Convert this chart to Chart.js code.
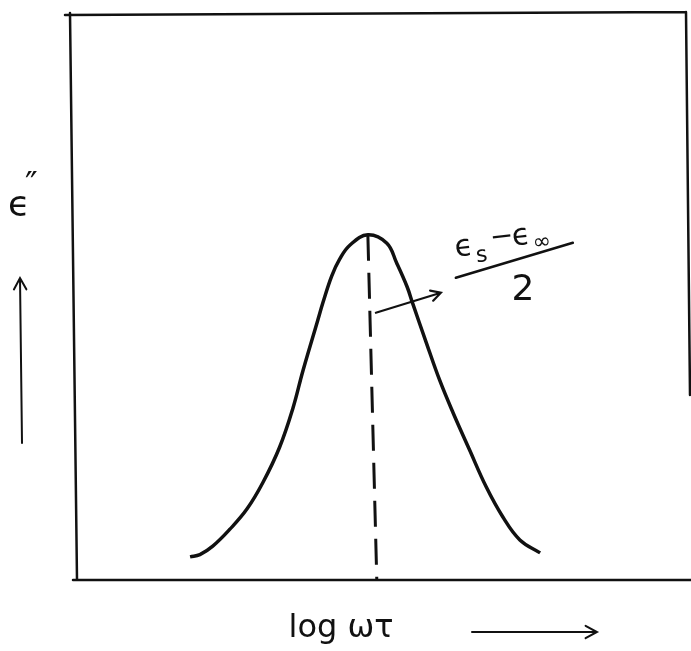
<!DOCTYPE html>
<html>
<head>
<meta charset="utf-8">
<script src="https://cdn.jsdelivr.net/npm/chart.js@4.4.1/dist/chart.umd.min.js"></script>
<style>
  html, body { margin: 0; padding: 0; background: #fff; }
  #wrap { position: relative; width: 691px; height: 651px; }
</style>
</head>
<body>
<div id="wrap"><canvas id="lossChart"></canvas></div>
<script>
// log(omega*tau), peak placed at 0
var logWT = [-2.90, -2.74, -2.53, -2.25, -1.97, -1.71, -1.44, -1.22, -1.06, -0.83, -0.73, -0.59, -0.46, -0.29, 0,
             0.31, 0.47, 0.64, 0.73, 0.96, 1.17, 1.39, 1.66, 1.93, 2.20, 2.48, 2.81];
// epsilon'' (arbitrary units, axis 0..1)
var epsLoss = [0.041, 0.045, 0.060, 0.090, 0.126, 0.173, 0.235, 0.305, 0.370, 0.455, 0.492, 0.538, 0.568, 0.593, 0.611,
               0.596, 0.561, 0.519, 0.490, 0.418, 0.354, 0.296, 0.230, 0.165, 0.112, 0.071, 0.048];
// dashed drop line from the peak to the axis
var dropX = [0, 0.147];
var dropY = [0.611, -0.005];

var xMin = -4.81, xMax = 5.19;
var yMin = 0, yMax = 1;

var curvePts = logWT.map(function(v, i){ return {x: v, y: epsLoss[i]}; });
var dropPts = dropX.map(function(v, i){ return {x: v, y: dropY[i]}; });

var INK = '#111';
var EPS = '\u03f5';

function arrow(ctx, x1, y1, x2, y2, head) {
  var a = Math.atan2(y2 - y1, x2 - x1);
  ctx.beginPath();
  ctx.moveTo(x1, y1); ctx.lineTo(x2, y2);
  ctx.moveTo(x2 - head * Math.cos(a - 0.5), y2 - head * Math.sin(a - 0.5));
  ctx.lineTo(x2, y2);
  ctx.lineTo(x2 - head * Math.cos(a + 0.5), y2 - head * Math.sin(a + 0.5));
  ctx.stroke();
}

var sketchPlugin = {
  id: 'sketch',
  afterDraw: function(chart) {
    var ctx = chart.ctx, ca = chart.chartArea;
    var xs = chart.scales.x, ys = chart.scales.y;
    ctx.save();
    ctx.strokeStyle = INK; ctx.fillStyle = INK;
    ctx.lineCap = 'round';

    // frame
    ctx.lineWidth = 2.5;
    ctx.beginPath();
    ctx.moveTo(ca.left - 8, ca.top); ctx.lineTo(ca.right, ca.top - 3);
    ctx.moveTo(ca.left - 3, ca.top - 2); ctx.lineTo(ca.left + 4, ca.bottom);
    ctx.moveTo(ca.right, ca.top - 3); ctx.lineTo(ca.right + 4, ca.top + 380);
    ctx.moveTo(ca.left, ca.bottom); ctx.lineTo(chart.width, ca.bottom);
    ctx.stroke();

    // y label
    ctx.font = '36px "DejaVu Sans"';
    ctx.textAlign = 'left'; ctx.textBaseline = 'alphabetic';
    ctx.fillText(EPS, 8, 216);
    ctx.font = '34px "DejaVu Sans"';
    ctx.fillText('\u2033', 25, 196);
    ctx.lineWidth = 2;
    arrow(ctx, 22, 443, 20, 278, 13);

    // x label
    ctx.font = '32px "DejaVu Sans"';
    ctx.textAlign = 'center';
    ctx.fillText('log \u03c9\u03c4', 341, 637);
    arrow(ctx, 472, 632, 597, 632, 13);

    // annotation near peak
    var px = xs.getPixelForValue(0), py = ys.getPixelForValue(epsLoss[14]);
    ctx.lineWidth = 2.2;
    arrow(ctx, px + 8, py + 78, px + 73, py + 58, 11);

    ctx.save();
    ctx.translate(px + 88, py + 22);
    ctx.rotate(-0.12);
    ctx.textAlign = 'left';
    ctx.font = '30px "DejaVu Sans"';
    ctx.fillText(EPS, 0, 0);
    ctx.font = '22px "DejaVu Sans"';
    ctx.fillText('s', 20, 8);
    ctx.font = '28px "DejaVu Sans"';
    ctx.fillText('\u2212', 36, -6);
    ctx.font = '30px "DejaVu Sans"';
    ctx.fillText(EPS, 58, -4);
    ctx.font = '22px "DejaVu Sans"';
    ctx.fillText('\u221e', 78, 2);
    ctx.restore();

    ctx.lineWidth = 2.5;
    ctx.beginPath();
    ctx.moveTo(px + 88, py + 43); ctx.lineTo(px + 205, py + 8);
    ctx.stroke();
    ctx.font = '36px "DejaVu Sans"';
    ctx.textAlign = 'center';
    ctx.fillText('2', px + 155, py + 65);

    ctx.restore();
  }
};

new Chart(document.getElementById('lossChart').getContext('2d'), {
  type: 'scatter',
  data: {
    datasets: [{
      data: curvePts,
      showLine: true,
      borderColor: INK,
      borderWidth: 3.5,
      pointRadius: 0,
      tension: 0.4,
      fill: false
    }, {
      data: dropPts,
      showLine: true,
      borderColor: INK,
      borderWidth: 3,
      borderDash: [26, 12],
      pointRadius: 0,
      fill: false
    }]
  },
  options: {
    responsive: true,
    maintainAspectRatio: false,
    animation: false,
    layout: { padding: { left: 73, right: 5, top: 15, bottom: 71 } },
    plugins: { legend: { display: false }, tooltip: { enabled: false } },
    scales: {
      x: { type: 'linear', min: xMin, max: xMax, display: false },
      y: { type: 'linear', min: yMin, max: yMax, display: false }
    }
  },
  plugins: [sketchPlugin]
});
</script>
</body>
</html>
